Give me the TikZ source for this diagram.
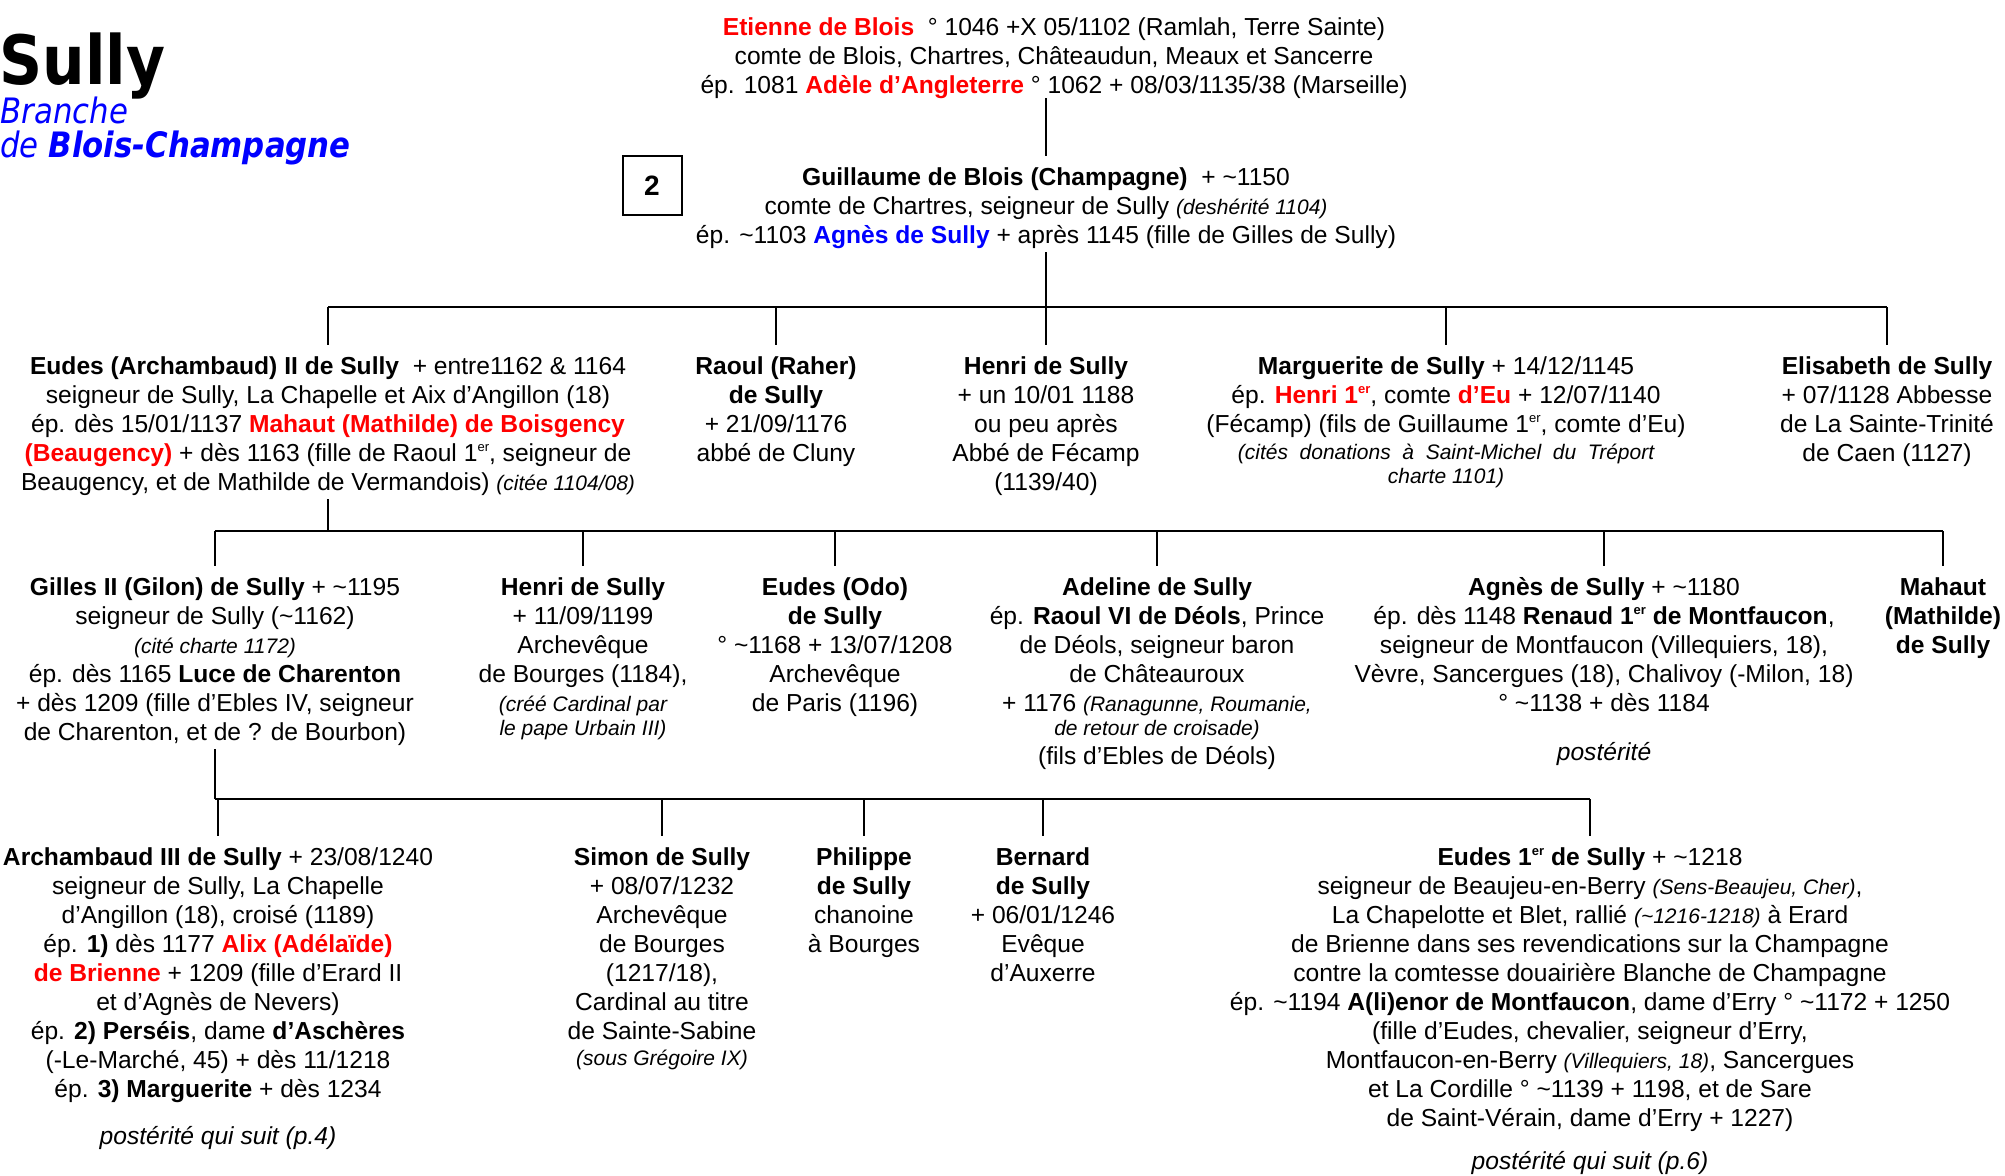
\documentclass[tikz,border=0pt]{standalone}
\usepackage{fontspec}
\setmainfont{Liberation Sans}
\newfontfamily\titlefont[FakeStretch=0.88]{DejaVu Sans}
\usetikzlibrary{positioning,calc}

\newcommand{\rouge}[1]{\textcolor{red}{\textbf{#1}}}
\newcommand{\bleu}[1]{\textcolor{blue}{\textbf{#1}}}
\newcommand{\petit}[1]{{\fontsize{10.5}{12.5}\selectfont\itshape #1}}
\newcommand{\ier}{\raisebox{0.75ex}{\fontsize{6.5}{7}\selectfont er}}
\newcommand{\env}{\textasciitilde}

\tikzset{
    person/.style = {anchor=north,
                    align=center,
                    inner sep=0pt,
                    text=black,
                    font=\fontsize{12.3}{14.5}\selectfont,
                    execute at begin node=\strut},
    link/.style =   {draw=black,
                    line width=1.2pt},
    box/.style =    {rectangle,
                    draw=black,
                    line width=1pt,
                    minimum width=29.5pt,
                    minimum height=29.5pt,
                    inner sep=0pt,
                    font=\fontsize{14}{16}\selectfont\bfseries},
    titre/.style =  {anchor=base west,
                    inner sep=0pt}}

\begin{document}
\begin{tikzpicture}[x=0.5pt,y=-0.5pt]
        \useasboundingbox (0,0) rectangle (2005,1175);

        % titre
        \node[titre] (sully)   at (-1,84)    {\titlefont\fontsize{34}{40}\selectfont\bfseries Sully};
        \node[titre] (branche) at (0,123)    {\titlefont\fontsize{17.5}{20}\selectfont\itshape\color{blue}Branche};
        \node[titre] (blois)   at (0,157)    {\titlefont\fontsize{17.5}{20}\selectfont\itshape\color{blue}de \textbf{Blois-Champagne}};
        \node[box]   (num)     at (652,185.5) {2};

        % generation 0 et 1
        \node[person] (etienne) at (1054,17) {\rouge{Etienne de Blois}\ \ ° 1046 +X 05/1102 (Ramlah, Terre Sainte)\\
                comte de Blois, Chartres, Châteaudun, Meaux et Sancerre\\
                ép. 1081 \rouge{Adèle d’Angleterre} ° 1062 + 08/03/1135/38 (Marseille)};
        \node[person] (guillaume) at (1046,167) {\textbf{Guillaume de Blois (Champagne)}\ \ + \env1150\\
                comte de Chartres, seigneur de Sully \petit{(deshérité 1104)}\\
                ép. \env1103 \bleu{Agnès de Sully} + après 1145 (fille de Gilles de Sully)};

        % generation 2
        \node[person] (eudes) at (328,356) {\textbf{Eudes (Archambaud) II de Sully}\ \ + entre1162 \& 1164\\
                seigneur de Sully, La Chapelle et Aix d’Angillon (18)\\
                ép. dès 15/01/1137 \rouge{Mahaut (Mathilde) de Boisgency}\\
                \rouge{(Beaugency)} + dès 1163 (fille de Raoul 1\ier, seigneur de\\
                Beaugency, et de Mathilde de Vermandois) \petit{(citée 1104/08)}};
        \node[person] (raoul) at (776,356) {\textbf{Raoul (Raher)}\\ \textbf{de Sully}\\ + 21/09/1176\\ abbé de Cluny};
        \node[person] (henri) at (1046,356) {\textbf{Henri de Sully}\\ + un 10/01 1188\\ ou peu après\\ Abbé de Fécamp\\ (1139/40)};
        \node[person] (marguerite) at (1446,356) {\textbf{Marguerite de Sully} + 14/12/1145\\
                ép. \rouge{Henri 1\ier}, comte \rouge{d’Eu} + 12/07/1140\\
                (Fécamp) (fils de Guillaume 1\ier, comte d’Eu)\\[-1pt]
                \petit{(cités\ \ donations\ \ à\ \ Saint-Michel\ \ du\ \ Tréport}\\[-2.5pt]
                \petit{charte 1101)}};
        \node[person] (elisabeth) at (1887,356) {\textbf{Elisabeth de Sully}\\ + 07/1128 Abbesse\\ de La Sainte-Trinité\\ de Caen (1127)};

        % generation 3
        \node[person] (gilles) at (215,577) {\textbf{Gilles II (Gilon) de Sully} + \env1195\\
                seigneur de Sully (\env1162)\\
                \petit{(cité charte 1172)}\\
                ép. dès 1165 \textbf{Luce de Charenton}\\
                + dès 1209 (fille d’Ebles IV, seigneur\\
                de Charenton, et de ? de Bourbon)};
        \node[person] (henriB) at (583,577) {\textbf{Henri de Sully}\\ + 11/09/1199\\ Archevêque\\ de Bourges (1184),\\
                \petit{(créé Cardinal par}\\[-2.5pt] \petit{le pape Urbain III)}};
        \node[person] (odo) at (835,577) {\textbf{Eudes (Odo)}\\ \textbf{de Sully}\\ ° \env1168 + 13/07/1208\\ Archevêque\\ de Paris (1196)};
        \node[person] (adeline) at (1157,577) {\textbf{Adeline de Sully}\\
                ép. \textbf{Raoul VI de Déols}, Prince\\
                de Déols, seigneur baron\\
                de Châteauroux\\
                + 1176 \petit{(Ranagunne, Roumanie,}\\[-2.5pt]
                \petit{de retour de croisade)}\\
                (fils d’Ebles de Déols)};
        \node[person] (agnes) at (1604,577) {\textbf{Agnès de Sully} + \env1180\\
                ép. dès 1148 \textbf{Renaud 1\ier{} de Montfaucon},\\
                seigneur de Montfaucon (Villequiers, 18),\\
                Vèvre, Sancergues (18), Chalivoy (-Milon, 18)\\
                ° \env1138 + dès 1184\\[10pt]
                \textit{postérité}};
        \node[person] (mahaut) at (1943,577) {\textbf{Mahaut}\\ \textbf{(Mathilde)}\\ \textbf{de Sully}};

        % generation 4
        \node[person] (archambaud) at (218,847) {\textbf{Archambaud III de Sully} + 23/08/1240\\
                seigneur de Sully, La Chapelle\\
                d’Angillon (18), croisé (1189)\\
                ép. \textbf{1)} dès 1177 \rouge{Alix (Adélaïde)}\\
                \rouge{de Brienne} + 1209 (fille d’Erard II\\
                et d’Agnès de Nevers)\\
                ép. \textbf{2) Perséis}, dame \textbf{d’Aschères}\\
                (-Le-Marché, 45) + dès 11/1218\\
                ép. \textbf{3) Marguerite} + dès 1234\\[9pt]
                \textit{postérité qui suit (p.4)}};
        \node[person] (simon) at (662,847) {\textbf{Simon de Sully}\\ + 08/07/1232\\ Archevêque\\ de Bourges\\ (1217/18),\\
                Cardinal au titre\\ de Sainte-Sabine\\[-1.5pt] \petit{(sous Grégoire IX)}};
        \node[person] (philippe) at (864,847) {\textbf{Philippe}\\ \textbf{de Sully}\\ chanoine\\ à Bourges};
        \node[person] (bernard) at (1043,847) {\textbf{Bernard}\\ \textbf{de Sully}\\ + 06/01/1246\\ Evêque\\ d’Auxerre};
        \node[person] (eudesI) at (1590,847) {\textbf{Eudes 1\ier{} de Sully} + \env1218\\
                seigneur de Beaujeu-en-Berry \petit{(Sens-Beaujeu, Cher)},\\
                La Chapelotte et Blet, rallié \petit{(\env1216-1218)} à Erard\\
                de Brienne dans ses revendications sur la Champagne\\
                contre la comtesse douairière Blanche de Champagne\\
                ép. \env1194 \textbf{A(li)enor de Montfaucon}, dame d’Erry ° \env1172 + 1250\\
                (fille d’Eudes, chevalier, seigneur d’Erry,\\
                Montfaucon-en-Berry \petit{(Villequiers, 18)}, Sancergues\\
                et La Cordille ° \env1139 + 1198, et de Sare\\
                de Saint-Vérain, dame d’Erry + 1227)\\[7pt]
                \textit{postérité qui suit (p.6)}};

        % liens
        \coordinate (bar1) at (0,307);
        \coordinate (bar2) at (0,531);
        \coordinate (bar3) at (0,799);
        \draw[link] ([yshift=2pt]etienne.south -| guillaume) -- ([yshift=5.5pt]guillaume.north);

        \draw[link] (guillaume.south) -- (guillaume.south |- bar1);
        \draw[link] (bar1 -| eudes) -- (bar1 -| elisabeth);
        \foreach \c in {eudes,raoul,henri,marguerite,elisabeth}
                \draw[link] (bar1 -| \c) -- ([yshift=5.5pt]\c.north);

        \draw[link] (eudes.south) -- (eudes.south |- bar2);
        \draw[link] (bar2 -| gilles) -- (bar2 -| mahaut);
        \foreach \c in {gilles,henriB,odo,adeline,agnes,mahaut}
                \draw[link] (bar2 -| \c) -- ([yshift=5.5pt]\c.north);

        \draw[link] (gilles.south) -- (gilles.south |- bar3);
        \draw[link] (bar3 -| gilles) -- (bar3 -| eudesI);
        \foreach \c in {archambaud,simon,philippe,bernard,eudesI}
                \draw[link] (bar3 -| \c) -- ([yshift=5.5pt]\c.north);
\end{tikzpicture}
\end{document}
